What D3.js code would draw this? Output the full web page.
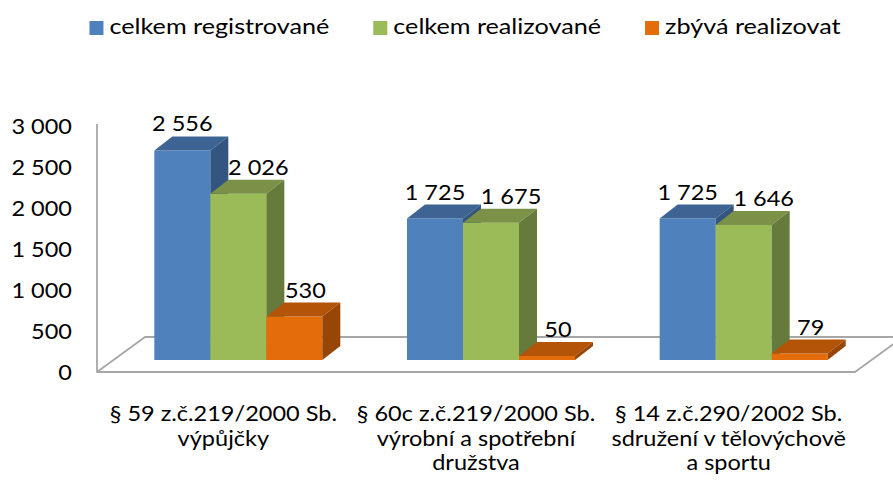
<!DOCTYPE html>
<html>
<head>
<meta charset="utf-8">
<script src="https://cdn.jsdelivr.net/npm/d3@7"></script>
<style>
  html, body { margin: 0; padding: 0; background: #ffffff; }
  svg { display: block; }
  text { font-family: Lato, "Open Sans", sans-serif; fill: #000; }
</style>
</head>
<body>
<div id="chart"></div>
<script>
// ---------- data ----------
const categoryLines = [
  ["§ 59 z.č.219/2000 Sb.", "výpůjčky"],
  ["§ 60c z.č.219/2000 Sb.", "výrobní a spotřební", "družstva"],
  ["§ 14 z.č.290/2002 Sb.", "sdružení v tělovýchově", "a sportu"]
];
const categories = ["c1", "c2", "c3"];
const seriesNames = ["celkem registrované", "celkem realizované", "zbývá realizovat"];
const registered = [2556, 1725, 1725];
const realized   = [2026, 1675, 1646];
const remaining  = [530, 50, 79];
const yTicks = [0, 500, 1000, 1500, 2000, 2500, 3000];

// ---------- style ----------
const W = 893, H = 491;
const frontColors = ["#4f81bd", "#9bbb59", "#e46c0a"];
const topColors   = ["#3d6492", "#7a9147", "#b45409"];
const sideColors  = ["#33557f", "#657a3b", "#984606"];
const labelDx = [0, 20, 11];
const fontSize = 21, stretch = 1.12, legendStretch = 1.2;

const seriesValues = [registered, realized, remaining];
const fmt = d3.formatLocale({decimal: ",", thousands: " ", grouping: [3], currency: ["", ""]}).format(",d");

const svg = d3.select("#chart").append("svg").attr("width", W).attr("height", H);

const y = d3.scaleLinear().domain([0, 3000]).range([372, 126]);
const x0 = d3.scaleBand().domain(categories).range([97, 855]).padding(0);
const x1 = d3.scaleBand().domain(d3.range(3)).range([0, x0.bandwidth()]).paddingInner(0).paddingOuter(0.756);

const floorDepth = [48, -35];   // floor depth vector
const barOff = [15, -12];        // bar front offset from front plane
const barDepth = [18, -14];      // bar depth vector

function addText(g, str, x, yy, anchor, sx) {
  return g.append("text")
    .attr("transform", `translate(${x},${yy}) scale(${sx || stretch},1)`)
    .attr("text-anchor", anchor)
    .attr("font-size", fontSize)
    .text(str);
}

// floor
const fx0 = x0.range()[0], fx1 = x0.range()[1], fy = y(0);
svg.append("path")
  .attr("d", `M${fx0},${fy} L${fx1},${fy} L${fx1 + floorDepth[0]},${fy + floorDepth[1]} L${fx0 + floorDepth[0]},${fy + floorDepth[1]} Z`)
  .attr("fill", "#fff").attr("stroke", "#a6a6a6").attr("stroke-width", 1.8).attr("stroke-linejoin", "round");

// vertical axis line
svg.append("line").attr("x1", fx0).attr("x2", fx0).attr("y1", y(3000) - 2).attr("y2", fy)
  .attr("stroke", "#a6a6a6").attr("stroke-width", 1.8);

// y tick labels
const yg = svg.append("g");
yTicks.forEach(t => {
  addText(yg, fmt(t), 72, y(t) + 8, "end");
});

// bars
const bars = svg.append("g");
categories.forEach((c, ci) => {
  seriesValues.forEach((vals, si) => {
    const v = vals[ci];
    const xl = x0(c) + x1(si) + barOff[0];
    const xr = xl + x1.bandwidth();
    const yb = y(0) + barOff[1];
    const yt = y(v) + barOff[1];
    const dx = barDepth[0], dy = barDepth[1];
    bars.append("path").attr("d", `M${xl},${yb} L${xl},${yt} L${xr},${yt} L${xr},${yb} Z`).attr("fill", frontColors[si]);
    bars.append("path").attr("d", `M${xl},${yt} L${xl + dx},${yt + dy} L${xr + dx},${yt + dy} L${xr},${yt} Z`).attr("fill", topColors[si]);
    bars.append("path").attr("d", `M${xr},${yt} L${xr + dx},${yt + dy} L${xr + dx},${yb + dy} L${xr},${yb} Z`).attr("fill", sideColors[si]);
  });
});

// data labels
const lg = svg.append("g");
categories.forEach((c, ci) => {
  seriesValues.forEach((vals, si) => {
    const v = vals[ci];
    const cx = x0(c) + x1(si) + barOff[0] + x1.bandwidth() / 2 + labelDx[si];
    addText(lg, fmt(v), cx, y(v) + barOff[1] - 19, "middle");
  });
});

// category labels
const cg = svg.append("g");
categories.forEach((c, ci) => {
  const cx = x0(c) + x0.bandwidth() / 2;
  categoryLines[ci].forEach((line, li) => {
    addText(cg, line, cx, 421 + li * 24.5, "middle");
  });
});

// legend
const leg = svg.append("g");
const items = seriesNames.map((name, i) => {
  const t = addText(leg, name, 0, 34.3, "start", legendStretch);
  const w = t.node().getComputedTextLength() * legendStretch;
  return {t, w, i};
});
const sq = 14, gapTxt = 6, gapItem = 44;
const total = d3.sum(items, d => sq + gapTxt + d.w) + gapItem * (items.length - 1);
let cx = 465 - total / 2;
items.forEach(d => {
  leg.append("rect").attr("x", cx).attr("y", 21).attr("width", sq).attr("height", sq).attr("fill", frontColors[d.i]);
  d.t.attr("transform", `translate(${cx + sq + gapTxt},34.3) scale(${legendStretch},1)`);
  cx += sq + gapTxt + d.w + gapItem;
});
</script>
</body>
</html>
